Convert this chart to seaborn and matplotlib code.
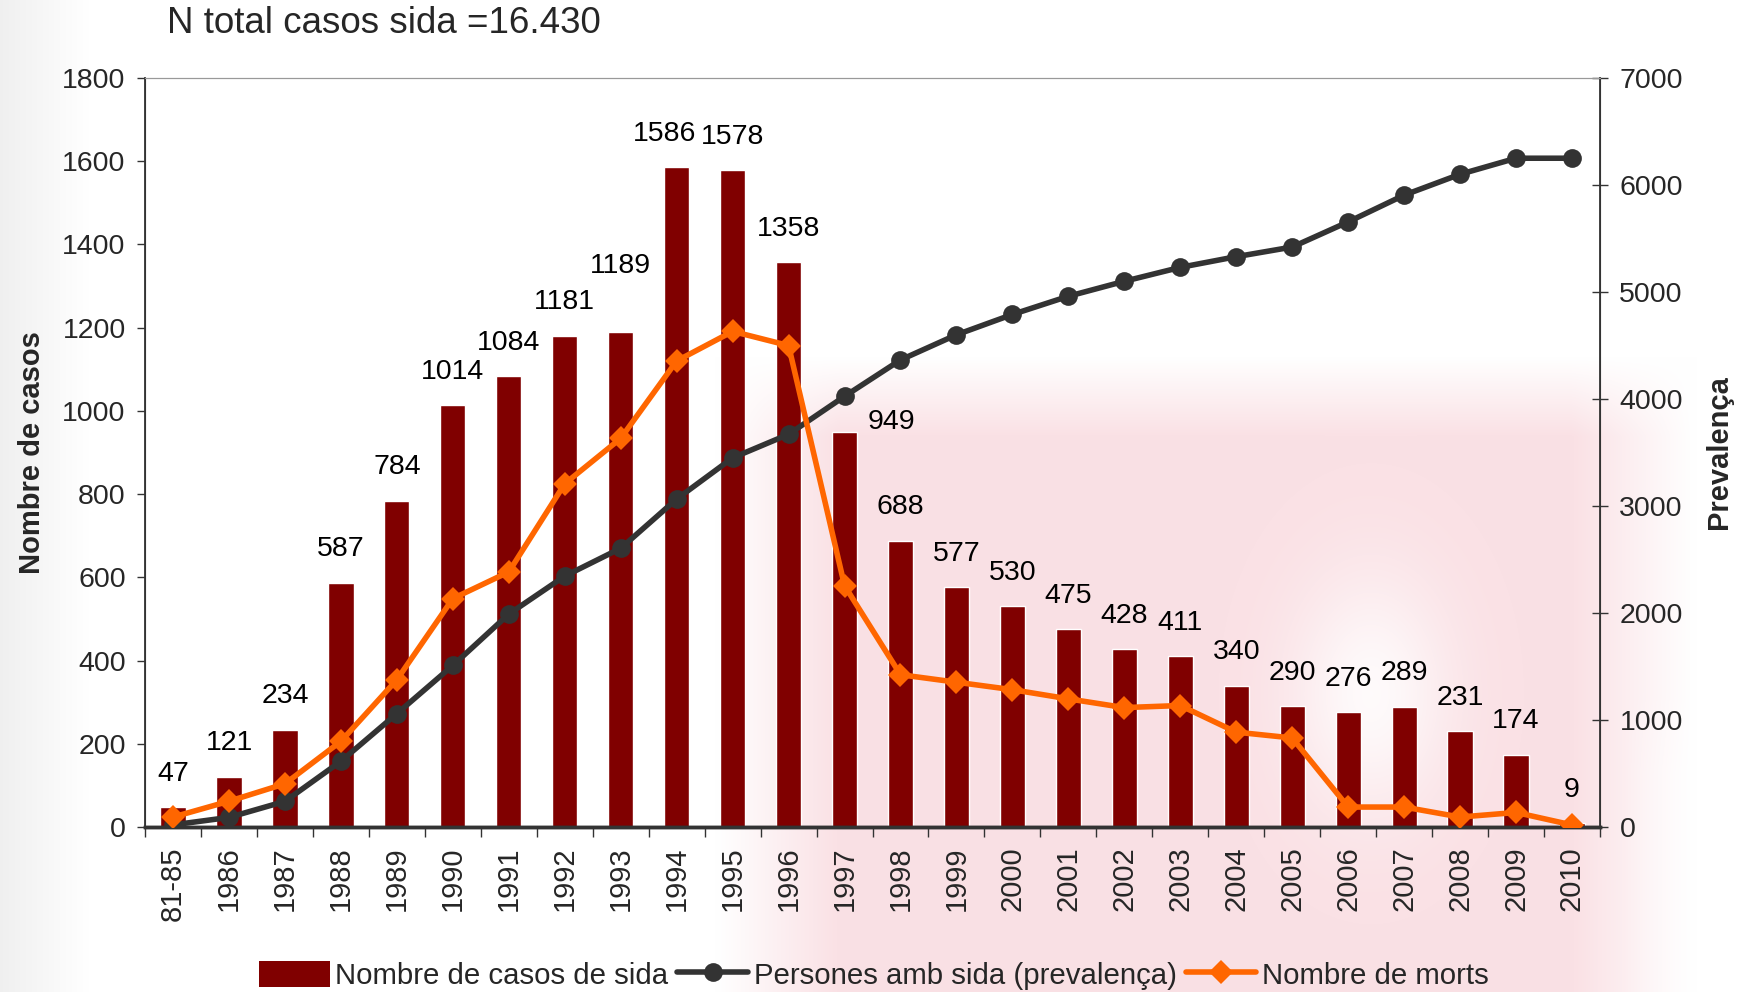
import numpy as np
import pandas as pd
import matplotlib.pyplot as plt
import seaborn as sns
from matplotlib.patches import Patch
from matplotlib.lines import Line2D
from matplotlib.ticker import MultipleLocator, FixedLocator

sns.set_style("white")
plt.rcParams['font.family'] = ['Liberation Sans', 'DejaVu Sans']

# data
years = ["81-85", "1986", "1987", "1988", "1989", "1990", "1991", "1992", "1993",
         "1994", "1995", "1996", "1997", "1998", "1999", "2000", "2001", "2002",
         "2003", "2004", "2005", "2006", "2007", "2008", "2009", "2010"]
casos = [47, 121, 234, 587, 784, 1014, 1084, 1181, 1189, 1586, 1578, 1358, 949,
         688, 577, 530, 475, 428, 411, 340, 290, 276, 289, 231, 174, 9]
prevalenca = [20, 90, 240, 615, 1060, 1510, 1990, 2345, 2605, 3065, 3450, 3670,
              4025, 4365, 4600, 4790, 4960, 5100, 5230, 5330, 5420, 5655, 5905,
              6100, 6250, 6250]
morts = [24, 62, 104, 206, 354, 549, 613, 825, 934, 1120, 1191, 1157, 580, 366,
         348, 330, 308, 287, 292, 228, 214, 48, 48, 24, 35, 5]

titol = "N total casos sida =16.430"
etiquetes = ["Nombre de casos de sida", "Persones amb sida (prevalença)", "Nombre de morts"]

bar_color = "#800000"
prev_color = "#333333"
mort_color = "#FF6600"

df = pd.DataFrame({"any": years, "casos": casos, "prev": prevalenca, "morts": morts})
xpos = np.arange(len(years))

fig = plt.figure(figsize=(17.48, 9.92), dpi=100, facecolor="white")

# faint slide background: grey fade on the left, pink watermark on the right
def soft(u, lo, hi, w):
    return np.clip((u - lo) / w, 0, 1) * np.clip((hi - u) / w, 0, 1)

gx, gy = np.meshgrid(np.linspace(0, 1, 600), np.linspace(1, 0, 340))
pink = soft(gx, 0.41, 0.97, 0.07) * soft(gy, -0.2, 0.64, 0.08) * 0.8
hole = np.exp(-(((gx - 0.785) / 0.045) ** 2 + ((gy - 0.3) / 0.12) ** 2))
pink = pink * (1 - 0.85 * hole)
pink = pink * (1 - 0.5 * soft(gx, 0.93, 1.2, 0.04) * soft(gy, -0.2, 0.3, 0.08))
img = np.ones((340, 600, 3))
for c, tgt in enumerate((0.975, 0.85, 0.87)):
    img[..., c] = 1 - pink * (1 - tgt)
grey = np.clip(1 - gx / 0.05, 0, 1) * 0.06
img = img - grey[..., None]
bg = fig.add_axes([0, 0, 1, 1], zorder=-10)
bg.imshow(img, extent=(0, 1, 0, 1), aspect="auto", interpolation="bilinear")
bg.axis("off")

ax = fig.add_axes([0.083, 0.1663, 0.8323, 0.7551], zorder=1)
ax.set_facecolor("none")

# bars
sns.barplot(data=df, x="any", y="casos", color=bar_color, saturation=1,
            width=0.45, ax=ax, zorder=2)
ax.set_xlim(-0.5, len(years) - 0.5)
ax.set_ylim(0, 1800)
ax.yaxis.set_major_locator(MultipleLocator(200))

# prevalence on the right axis
ax2 = ax.twinx()
sns.lineplot(x=xpos, y=df["prev"], ax=ax2, color=prev_color, linewidth=4,
             marker="o", markersize=13.5, markeredgewidth=0, legend=False)
ax2.set_ylim(0, 7000)
ax2.yaxis.set_major_locator(MultipleLocator(1000))

# deaths share the left scale but sit on top of everything
ax3 = ax.twinx()
sns.lineplot(x=xpos, y=df["morts"], ax=ax3, color=mort_color, linewidth=4,
             marker="D", markersize=12, markeredgewidth=0, legend=False)
ax3.set_ylim(0, 1800)
ax3.set_xlim(-0.5, len(years) - 0.5)
ax2.set_xlim(-0.5, len(years) - 0.5)
ax3.axis("off")

# data labels above the bars (a few were moved by hand in the original)
moved = {"1993": (0, 48), "1994": (-9, 24), "1997": (34, 7)}
for i, (yr, v) in enumerate(zip(years, casos)):
    dx, dy = moved.get(yr, (0, 24))
    ax3.annotate(str(v), (i, v), xytext=(dx, dy), textcoords="offset points",
                 ha="center", va="center", fontsize=20.5, color="black")

# axes styling
for a in (ax, ax2):
    a.set_xlabel("")
    a.set_ylabel("")
for side in ("left", "right", "bottom"):
    ax.spines[side].set_color("#333333")
    ax2.spines[side].set_color("#333333")
ax.spines["top"].set_color("#999999")
ax2.spines["top"].set_color("#999999")
ax.spines["left"].set_linewidth(1.3)
ax2.spines["right"].set_linewidth(1.3)
ax.spines["bottom"].set_linewidth(2.5)
ax2.spines["bottom"].set_linewidth(2.5)

ax.tick_params(axis="y", direction="out", length=6, width=1, color="#333333",
               labelsize=20.5, pad=8, left=True)
ax2.tick_params(axis="y", direction="inout", length=12, width=1, color="#333333",
                labelsize=20.5, pad=8, right=True)
ax.set_xticks(xpos)
ax.set_xticklabels(years, rotation=90, fontsize=21)
ax.tick_params(axis="x", which="major", length=0, pad=14)
ax.xaxis.set_minor_locator(FixedLocator(np.arange(-0.5, len(years), 1.0)))
ax.tick_params(axis="x", which="minor", direction="out", length=7, width=1,
               color="#333333", bottom=True)

ax.set_ylabel("Nombre de casos", fontsize=21, fontweight="bold", labelpad=12)
ax2.set_ylabel("Prevalença", fontsize=21, fontweight="bold", rotation=90,
               labelpad=16)

fig.text(0.0955, 0.976, titol, fontsize=26.5, ha="left", va="center")

handles = [Patch(facecolor=bar_color, edgecolor="none"),
           Line2D([], [], color=prev_color, linewidth=4, marker="o",
                  markersize=13.5, markeredgewidth=0),
           Line2D([], [], color=mort_color, linewidth=4, marker="D",
                  markersize=12, markeredgewidth=0)]
fig.legend(handles, etiquetes, loc="center", bbox_to_anchor=(0.5, 0.017),
           ncol=3, frameon=False, fontsize=21.2, handlelength=2.4,
           handleheight=1.0, handletextpad=0.2, columnspacing=0.3)

fig.savefig("out.png", dpi=100)
